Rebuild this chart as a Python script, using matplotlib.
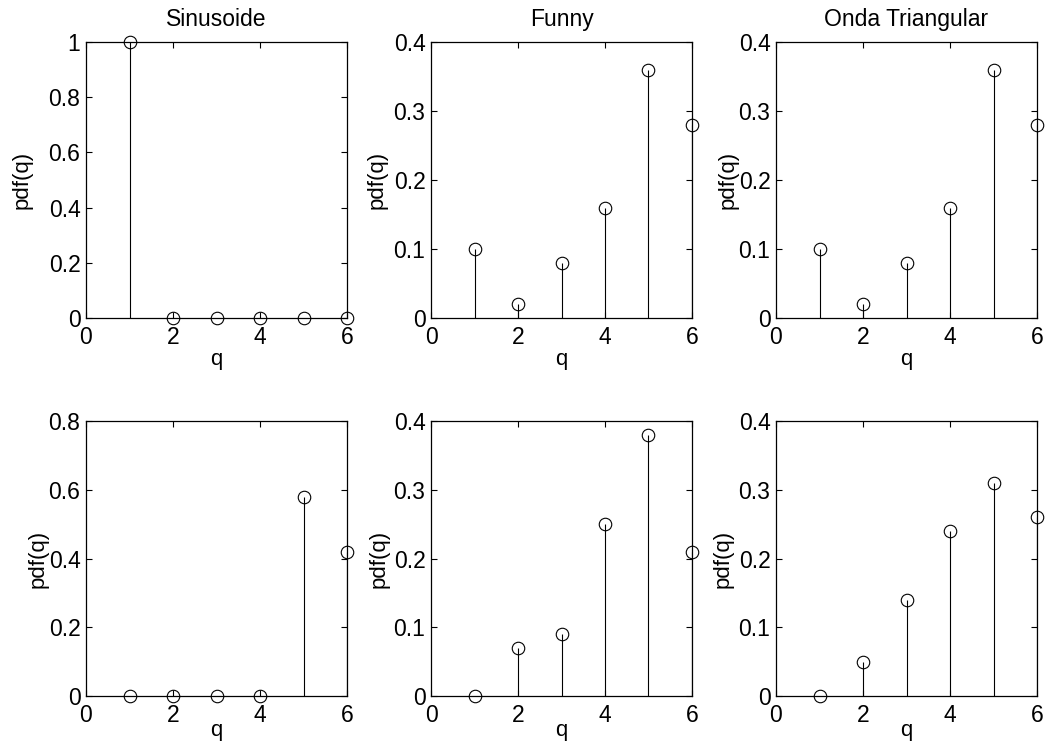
import matplotlib
matplotlib.use("Agg")
import matplotlib.pyplot as plt

plt.rcParams['font.family'] = ['Liberation Sans', 'DejaVu Sans']

q = [1, 2, 3, 4, 5, 6]

titles = ["Sinusoide", "Funny", "Onda Triangular"]

pdf_top_sin = [1.0, 0.0, 0.0, 0.0, 0.0, 0.0]
pdf_top_funny = [0.10, 0.02, 0.08, 0.16, 0.36, 0.28]
pdf_top_tri = [0.10, 0.02, 0.08, 0.16, 0.36, 0.28]

pdf_bot_sin = [0.0, 0.0, 0.0, 0.0, 0.58, 0.42]
pdf_bot_funny = [0.0, 0.07, 0.09, 0.25, 0.38, 0.21]
pdf_bot_tri = [0.0, 0.05, 0.14, 0.24, 0.31, 0.26]

ylims = [1.0, 0.4, 0.4, 0.8, 0.4, 0.4]
ysteps = [0.2, 0.1, 0.1, 0.2, 0.1, 0.1]

W, H = 1048, 746
fig = plt.figure(figsize=(W / 100, H / 100), dpi=100)

# axes boxes in pixels: left/right, top/bottom
cols = [(86, 347), (431, 692), (776, 1037)]
rows = [(42, 318), (421, 696)]

all_pdf = [pdf_top_sin, pdf_top_funny, pdf_top_tri,
           pdf_bot_sin, pdf_bot_funny, pdf_bot_tri]

# label offsets in pixels (MATLAB put the ylabels a bit irregular)
ylab_dx = [64, 54, 48, 48, 52, 53]
xlab_base = [47, 47, 47, 40, 40, 40]

for i in range(6):
    r, c = divmod(i, 3)
    x0, x1 = cols[c]
    y0, y1 = rows[r]
    wpx, hpx = x1 - x0, y1 - y0
    ax = fig.add_axes([x0 / W, 1 - y1 / H, wpx / W, hpx / H])
    vals = all_pdf[i]
    markerline, stemlines, baseline = ax.stem(q, vals, linefmt='k-', markerfmt='ko', basefmt=' ')
    markerline.set_markerfacecolor('none')
    markerline.set_markersize(9)
    markerline.set_markeredgewidth(0.8)
    markerline.set_clip_on(False)
    stemlines.set_linewidth(0.8)
    ax.set_xlim(0, 6)
    ax.set_ylim(0, ylims[i])
    ax.set_xticks([0, 2, 4, 6])
    n = int(round(ylims[i] / ysteps[i]))
    yt = [round(k * ysteps[i], 2) for k in range(n + 1)]
    ax.set_yticks(yt)
    ax.set_yticklabels(['%g' % v for v in yt])
    ax.tick_params(direction='in', top=True, right=True, length=4, width=0.8,
                   labelsize=16.5)
    ax.tick_params(axis='x', pad=6)
    ax.tick_params(axis='y', pad=4)
    for s in ax.spines.values():
        s.set_linewidth(0.9)
    ax.set_xlabel('q', fontsize=16, va='baseline')
    ax.set_ylabel('pdf(q)', fontsize=16, va='center')
    ax.yaxis.set_label_coords(-ylab_dx[i] / wpx, 0.5)
    ax.xaxis.set_label_coords(0.5, -xlab_base[i] / hpx)
    if r == 0:
        ax.text(0.5, 1 + 16 / hpx, titles[c], fontsize=16.5, ha='center',
                va='baseline', transform=ax.transAxes)

fig.savefig('out.png', dpi=100)
